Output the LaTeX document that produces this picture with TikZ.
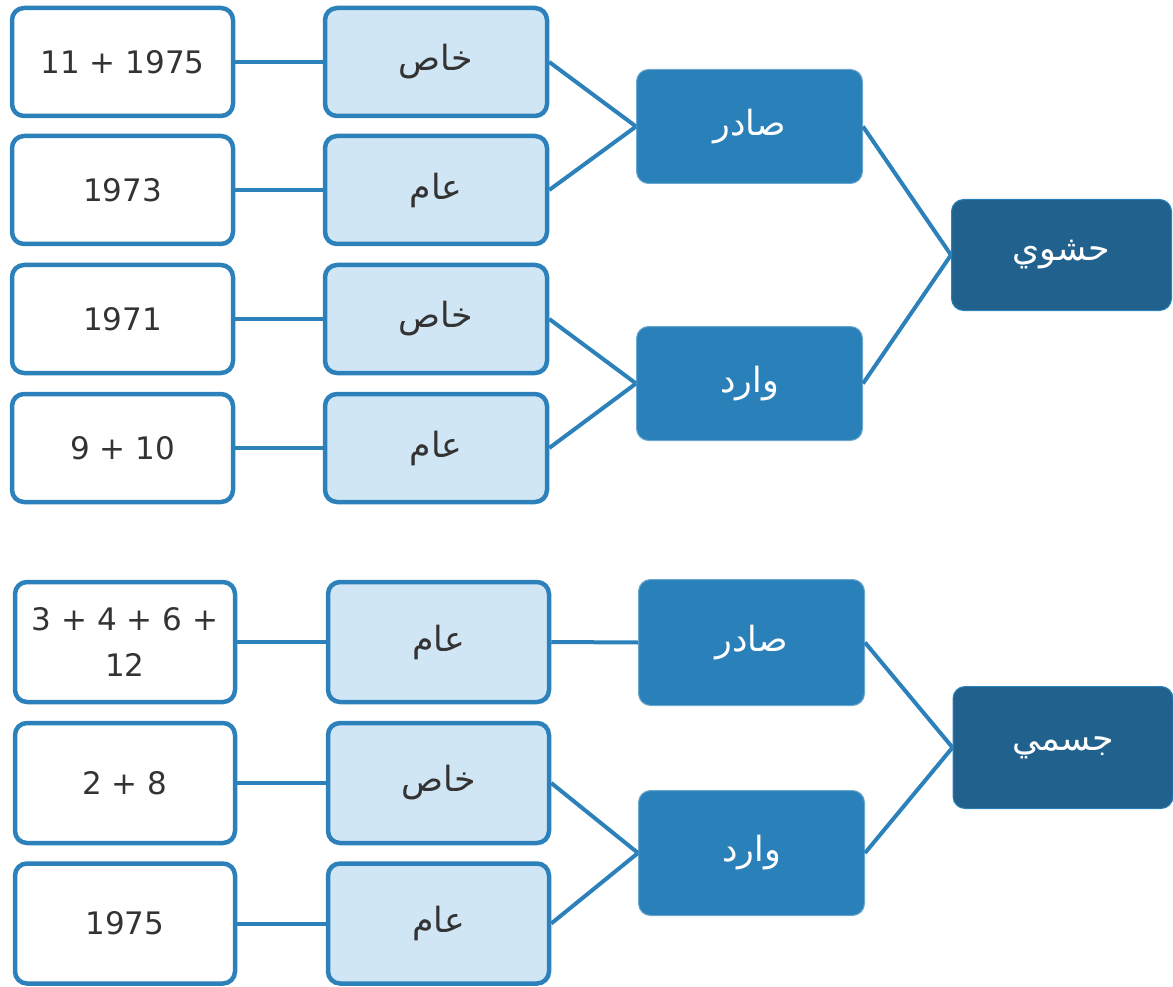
\documentclass[tikz,border=0pt]{standalone}
\usepackage{fontspec}
\setmainfont{DejaVu Sans}
\newfontfamily\arabicfont[Script=Arabic,Scale=1.12]{DejaVu Sans}
\TeXXeTstate=1
\newcommand{\artext}[1]{{\arabicfont\beginR #1\endR}}

\definecolor{lineblue}{HTML}{2C81BA}
\definecolor{paleblue}{HTML}{D1E6F5}
\definecolor{midblue}{HTML}{2A81B9}
\definecolor{darkblue}{HTML}{20628D}
\definecolor{textgray}{HTML}{333333}

\begin{document}
\begin{tikzpicture}[x=1pt,y=-1pt,
  box/.style={rectangle, rounded corners=12pt, line width=4.5pt, draw=lineblue,
    align=center, text=textgray, font=\fontsize{31}{46}\selectfont, inner sep=2pt},
  leaf/.style={box, fill=white, minimum width=221pt},
  kind/.style={box, fill=paleblue, minimum width=222pt},
  side/.style={rectangle, rounded corners=12pt, line width=1pt, draw=lineblue!70!white,
    fill=midblue, text=white, font=\fontsize{31}{46}\selectfont, minimum width=226pt},
  root/.style={side, fill=darkblue, draw=lineblue, minimum width=220pt},
  link/.style={draw=lineblue, line width=4pt}]
  \useasboundingbox (0,0) rectangle (1173,987);

  % Top group: leaves and kinds
  \foreach \i/\y/\num/\kw in {1/62/11 + 1975/خاص, 2/190/1973/عام,
                              3/319/1971/خاص, 4/448/9 + 10/عام} {
    \node[leaf, minimum height=108pt] (t\i) at (122.5,\y) {\num};
    \node[kind, minimum height=108pt] (tk\i) at (436,\y) {\artext{\kw}};
    \draw[link] (t\i.east) -- (tk\i.west);
  }
  \node[side, minimum height=114pt] (tsad) at (749.5,126.5) {\artext{صادر}};
  \node[side, minimum height=114pt] (twar) at (749.5,383.5) {\artext{وارد}};
  \node[root, minimum height=111pt] (hashwi) at (1061.5,255) {\artext{حشوي}};
  \draw[link] (tk1.east) -- (tsad.west);
  \draw[link] (tk2.east) -- (tsad.west);
  \draw[link] (tk3.east) -- (twar.west);
  \draw[link] (tk4.east) -- (twar.west);
  \draw[link] (tsad.east) -- (hashwi.west);
  \draw[link] (twar.east) -- (hashwi.west);

  % Bottom group
  \foreach \i/\y/\num/\kw in {1/642/{3 + 4 + 6 +\\12}/عام, 2/783/2 + 8/خاص,
                              3/923.5/1975/عام} {
    \node[leaf, minimum width=220pt, minimum height=120pt] (b\i) at (125,\y) {\num};
    \node[kind, minimum width=221pt, minimum height=120pt] (bk\i) at (438.5,\y) {\artext{\kw}};
    \draw[link] (b\i.east) -- (bk\i.west);
  }
  \node[side, minimum height=126pt] (bsad) at (751.5,642.5) {\artext{صادر}};
  \node[side, minimum height=125pt] (bwar) at (751.5,853) {\artext{وارد}};
  \node[root, minimum height=122pt] (jismi) at (1063,747.5) {\artext{جسمي}};
  \draw[link] (bk1.east) -- (bsad.west);
  \draw[link] (bk2.east) -- (bwar.west);
  \draw[link] (bk3.east) -- (bwar.west);
  \draw[link] (bsad.east) -- (jismi.west);
  \draw[link] (bwar.east) -- (jismi.west);
\end{tikzpicture}
\end{document}
